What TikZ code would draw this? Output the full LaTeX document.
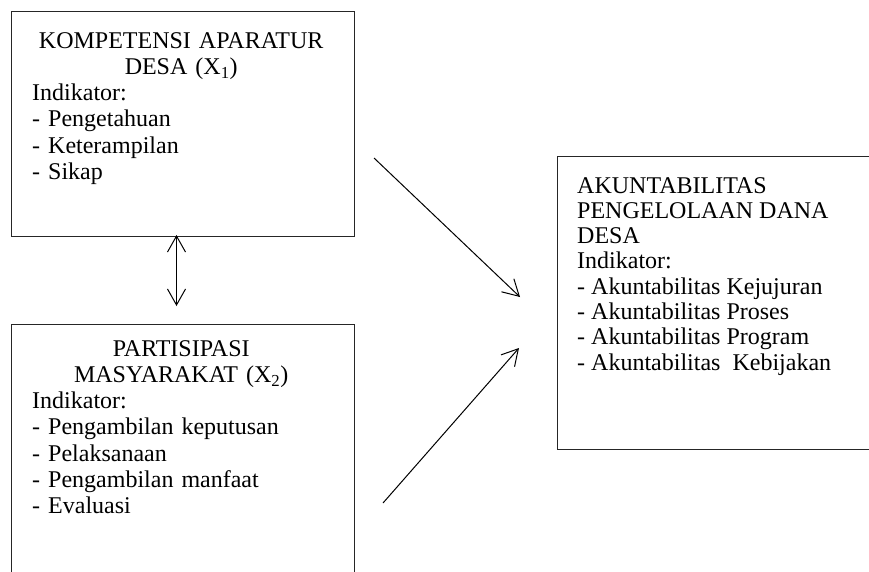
\documentclass[tikz,border=0pt]{standalone}
\usepackage{fontspec}
\setmainfont{Liberation Serif}
\usetikzlibrary{arrows.meta}

\begin{document}
\begin{tikzpicture}[x=1pt,y=1pt,
  box/.style={draw=black!85, line width=1pt, rectangle, anchor=north west, inner sep=0pt},
  txt/.style={anchor=north west, inner sep=0pt, align=left, font=\fontsize{24}{26.3}\selectfont},
  link/.style={line width=1pt, -{Straight Barb[length=16pt,width=18pt]}},
  dlink/.style={line width=1pt, {Straight Barb[length=16pt,width=18pt]}-{Straight Barb[length=16pt,width=18pt]}}]
\useasboundingbox (0,0) rectangle (869,-571);
% kotak variabel
\node[box, minimum width=343, minimum height=225] (kompetensi) at (11,-11) {};
\node[box, minimum width=343, minimum height=300] (partisipasi) at (11,-324) {};
\node[box, minimum width=330, minimum height=293] (akuntabilitas) at (557,-156) {};
% isi kotak
\node[txt, text width=298] (kompetensiText) at (32,-32) {{\centering KOMPETENSI APARATUR\\ DESA (X\textsubscript{1})\par}Indikator:\\ - Pengetahuan\\ - Keterampilan\\ - Sikap};
\node[txt, text width=298] (partisipasiText) at (32,-340) {{\centering PARTISIPASI\\ MASYARAKAT (X\textsubscript{2})\par}Indikator:\\ - Pengambilan keputusan\\ - Pelaksanaan\\ - Pengambilan manfaat\\ - Evaluasi};
\node[txt, font=\fontsize{24}{25.3}\selectfont] (akuntabilitasText) at (577,-177) {AKUNTABILITAS\\ PENGELOLAAN DANA\\ DESA\\ Indikator:\\ - Akuntabilitas Kejujuran\\ - Akuntabilitas Proses\\ - Akuntabilitas Program\\ - Akuntabilitas~ Kebijakan};
% ujung panah
\coordinate (kompetensiBawah) at (176.5,-235);
\coordinate (partisipasiAtas) at (176.5,-306);
\coordinate (x1Awal) at (374,-158);
\coordinate (x1Akhir) at (520,-297);
\coordinate (x2Awal) at (383,-503);
\coordinate (x2Akhir) at (519,-348);
% panah
\draw [dlink] (kompetensiBawah) -- (partisipasiAtas);
\draw [link] (x1Awal) -- (x1Akhir);
\draw [link] (x2Awal) -- (x2Akhir);
\end{tikzpicture}
\end{document}
